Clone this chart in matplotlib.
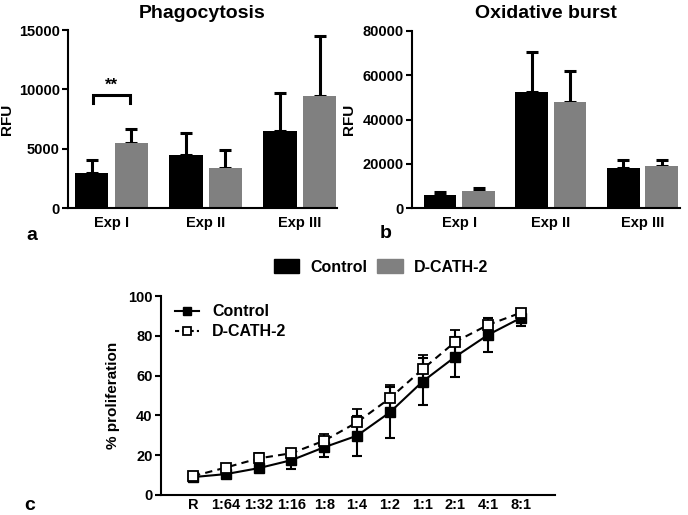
import matplotlib
matplotlib.use("Agg")
import matplotlib.pyplot as plt
import numpy as np
from matplotlib.patches import Patch
from matplotlib.lines import Line2D

plt.rcParams['font.family'] = ['Liberation Sans', 'DejaVu Sans']
plt.rcParams['font.weight'] = 'bold'

# ---- data ----
experiments = ["Exp I", "Exp II", "Exp III"]
phago_control = [2950, 4500, 6480]
phago_control_err = [1100, 1850, 3180]
phago_dcath = [5500, 3350, 9440]
phago_dcath_err = [1120, 1500, 5060]

oxid_control = [5800, 52600, 17900]
oxid_control_err = [1550, 18100, 3900]
oxid_dcath = [7500, 47700, 19100]
oxid_dcath_err = [1500, 14200, 2700]

ratios = ["R", "1:64", "1:32", "1:16", "1:8", "1:4", "1:2", "1:1", "2:1", "4:1", "8:1"]
prolif_control = [9, 10.5, 13.5, 17.5, 24, 29.8, 41.5, 57, 69.5, 80.5, 89]
prolif_control_err = [0.5, 1.5, 2, 4.5, 5, 10, 13, 12, 10, 8.5, 4]
prolif_dcath = [9.5, 13.8, 18.4, 21, 27.3, 36.5, 48.6, 63.2, 77, 85.5, 91.6]
prolif_dcath_err = [0.5, 1, 2.5, 2, 3.3, 6.7, 6.5, 7, 6, 3.5, 2]

BLACK = "#000000"
GRAY = "#808080"
TICK_FS = 10.5

W, H = 688, 515
fig = plt.figure(figsize=(W / 100, H / 100), dpi=100)


def frac(l, r, t, b):
    return [l / W, 1 - b / H, (r - l) / W, (b - t) / H]


def style_axes(ax, xpad):
    for s in ["top", "right"]:
        ax.spines[s].set_visible(False)
    for s in ["left", "bottom"]:
        ax.spines[s].set_linewidth(1.5)
    ax.tick_params(axis="y", direction="out", length=4, width=1.5, labelsize=TICK_FS, pad=2)
    ax.tick_params(axis="x", length=0, labelsize=TICK_FS, pad=xpad)
    for lab in ax.get_xticklabels() + ax.get_yticklabels():
        lab.set_fontweight("bold")


def bar_panel(ax, ctrl, ctrl_err, dc, dc_err, xlim, ylim, yticks, title, ylab_x):
    x = np.arange(len(experiments))
    w = 0.356
    off = 0.21
    ax.bar(x - off, ctrl, w, color=BLACK, zorder=2)
    ax.bar(x + off, dc, w, color=GRAY, zorder=2)
    ax.errorbar(x - off, ctrl, yerr=[np.zeros(3), ctrl_err], fmt="none", ecolor=BLACK,
                elinewidth=2.2, capsize=4.5, capthick=2.2, zorder=1)
    ax.errorbar(x + off, dc, yerr=[np.zeros(3), dc_err], fmt="none", ecolor=BLACK,
                elinewidth=2.2, capsize=4.5, capthick=2.2, zorder=1)
    ax.set_xlim(*xlim)
    ax.set_ylim(*ylim)
    ax.set_yticks(yticks)
    ax.set_xticks(x)
    ax.set_xticklabels(experiments)
    ax.set_ylabel("RFU", fontsize=11, fontweight="bold")
    ax.yaxis.set_label_coords(ylab_x, 0.5)
    ax.set_title(title, fontsize=14, fontweight="bold", pad=9)
    style_axes(ax, 6)


# Panel a
axa = fig.add_axes(frac(68, 337, 30, 208))
bar_panel(axa, phago_control, phago_control_err, phago_dcath, phago_dcath_err,
          (-0.462, 2.395), (0, 15000), [0, 5000, 10000, 15000], "Phagocytosis",
          (14 - 68) / 269)
axa.plot([-0.2, -0.2, 0.2, 0.2], [8880, 9550, 9550, 8880], color=BLACK, lw=2.2,
         solid_joinstyle="miter")
axa.text(0.0, 9700, "**", ha="center", va="bottom", fontsize=12, fontweight="bold")

# Panel b
axb = fig.add_axes(frac(412, 680, 31, 208))
bar_panel(axb, oxid_control, oxid_control_err, oxid_dcath, oxid_dcath_err,
          (-0.518, 2.41), (0, 80000), [0, 20000, 40000, 60000, 80000], "Oxidative burst",
          (356 - 412) / 268)

# Panel labels
fig.text(32 / W, 1 - 236 / H, "a", fontsize=14, fontweight="bold", ha="center", va="center")
fig.text(386 / W, 1 - 234 / H, "b", fontsize=14, fontweight="bold", ha="center", va="center")
fig.text(30 / W, 1 - 505 / H, "c", fontsize=14, fontweight="bold", ha="center", va="center")

# Shared legend for bars
handles = [Patch(facecolor=BLACK, edgecolor=BLACK), Patch(facecolor=GRAY, edgecolor=GRAY)]
fig.legend(handles, ["Control", "D-CATH-2"], loc="center", bbox_to_anchor=(381 / W, 1 - 267 / H),
           ncol=2, frameon=False, prop={"weight": "bold", "size": 11.5},
           handlelength=1.6, handleheight=1.0, handletextpad=0.7, columnspacing=0.6)

# Panel c
axc = fig.add_axes(frac(161, 555, 296, 495))
xc = np.arange(len(ratios))
axc.errorbar(xc, prolif_control, yerr=prolif_control_err, color=BLACK, lw=1.5, ls="-",
             marker="s", markersize=6.5, markerfacecolor=BLACK, markeredgecolor=BLACK,
             ecolor=BLACK, elinewidth=1.5, capsize=3.5, capthick=1.5, zorder=3)
axc.errorbar(xc, prolif_dcath, yerr=prolif_dcath_err, color=BLACK, lw=1.5, ls=(0, (3.5, 2.5)),
             marker="s", markersize=6.5, markerfacecolor="white", markeredgecolor=BLACK,
             markeredgewidth=1.3, ecolor=BLACK, elinewidth=1.5, capsize=3.5, capthick=1.5,
             zorder=4)
axc.set_xlim(-0.98, 11.04)
axc.set_ylim(0, 100)
axc.set_yticks([0, 20, 40, 60, 80, 100])
axc.set_xticks(xc)
axc.set_xticklabels(ratios)
axc.set_ylabel("% proliferation", fontsize=11, fontweight="bold", labelpad=6)
style_axes(axc, 2)
leg_handles = [
    Line2D([], [], color=BLACK, lw=1.5, ls="-", marker="s", markersize=6,
           markerfacecolor=BLACK, markeredgecolor=BLACK),
    Line2D([], [], color=BLACK, lw=1.5, ls=(0, (2, 1.5)), marker="s", markersize=6,
           markerfacecolor="white", markeredgecolor=BLACK, markeredgewidth=1.3),
]
axc.legend(leg_handles, ["Control", "D-CATH-2"], loc="upper left", bbox_to_anchor=(0.0, 1.03),
           frameon=False, prop={"weight": "bold", "size": 11.5}, handlelength=1.5,
           handletextpad=0.8, labelspacing=0.3)

fig.savefig("out.png", dpi=100)
